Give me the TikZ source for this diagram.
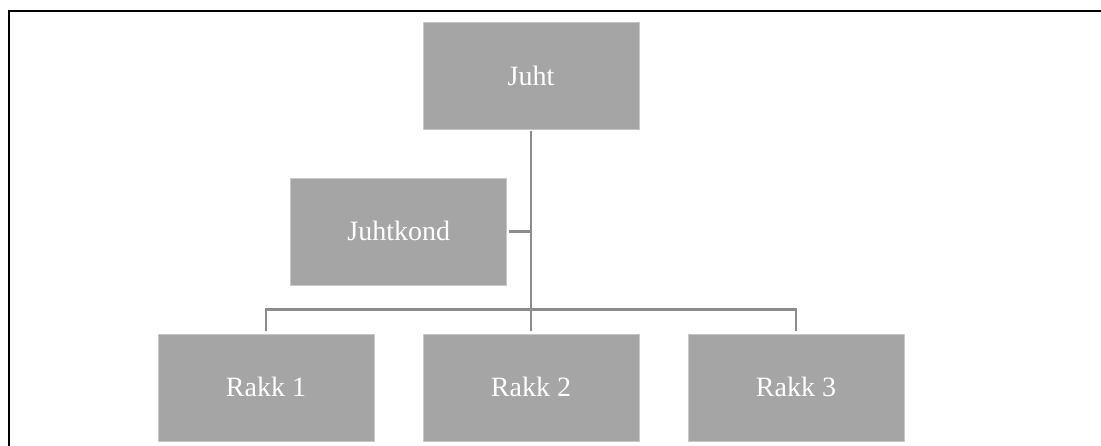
\documentclass[tikz,border=0pt]{standalone}
\usepackage{fontspec}
\setmainfont{Liberation Serif}
\definecolor{boxgray}{HTML}{A5A5A5}
\definecolor{boxedge}{HTML}{C8C8C8}
\definecolor{linegray}{HTML}{8C8C8C}
\tikzset{
  orgbox/.style={rectangle, fill=boxgray, draw=boxedge, line width=0.6pt,
    minimum width=216pt, minimum height=107pt, inner sep=0pt,
    text=white, font=\fontsize{28}{34}\selectfont, text height=18.5pt, text depth=0pt},
  conn/.style={draw=linegray, line width=2.8pt, line join=miter, line cap=butt},
  frame/.style={draw=black, line width=2pt}
}
\begin{document}
\begin{tikzpicture}[x=1pt, y=-1pt]
\useasboundingbox (0,0) rectangle (1101,446);
\fill[white] (0,0) rectangle (1101,446);
\draw[frame] (9,446) -- (9,11) -- (1101,11);
\node[orgbox] (Juht) at (531,76) {Juht};
\node[orgbox] (Juhtkond) at (398.7,231.5) {Juhtkond};
\node[orgbox] (Rakk1) at (266,387.5) {Rakk 1};
\node[orgbox] (Rakk2) at (531,387.5) {Rakk 2};
\node[orgbox] (Rakk3) at (796,387.5) {Rakk 3};
\coordinate (bus) at (531,309.3);
\draw[conn, shorten <=1pt, shorten >=3pt] (Juht.south) -- (Rakk2.north);
\draw[conn, shorten <=2pt] (Juhtkond.east) -- (Juhtkond.east -| Juht.south);
\draw[conn, shorten <=3pt, shorten >=3pt] (Rakk1.north) -- (Rakk1.north |- bus) -- (Rakk3.north |- bus) -- (Rakk3.north);
\end{tikzpicture}
\end{document}
